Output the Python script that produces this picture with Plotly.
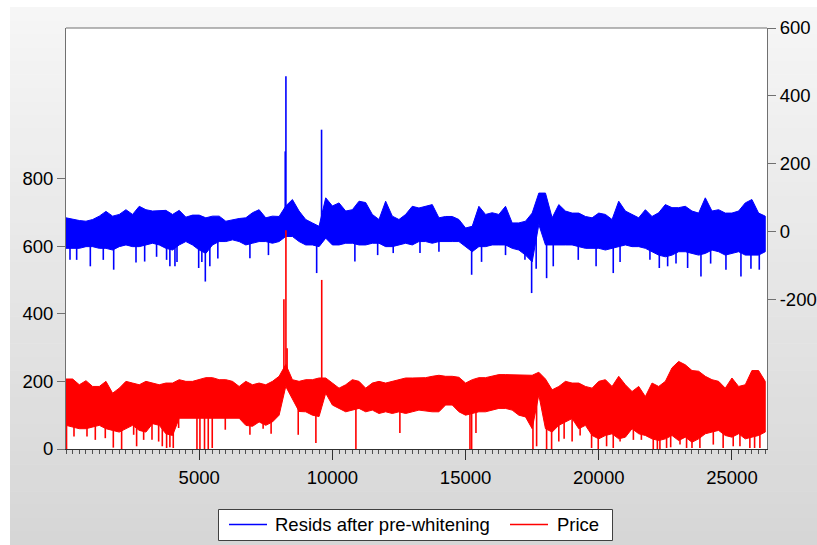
import plotly.graph_objects as go

# ---------------- data ----------------
STEP = 250  # spacing of the envelope readings on the x axis
# Resids after pre-whitening (right axis): upper edge and lower core edge of the dense band
resid_hi = [40, 35, 32, 30, 35, 45, 59, 45, 50, 64, 50, 74, 64, 60, 62, 62, 50, 62, 42, 48,
            48, 40, 45, 45, 30, 35, 38, 40, 55, 64, 40, 45, 44, 75, 94, 60, 35, 25, 15, 99,
            75, 84, 60, 64, 89, 85, 50, 35, 89, 45, 35, 50, 74, 69, 74, 79, 40, 44, 44, 35,
            10, 15, 74, 50, 55, 50, 74, 25, 25, 30, 54, 113, 113, 40, 79, 60, 54, 54, 44, 40,
            54, 50, 35, 89, 60, 50, 40, 64, 44, 55, 79, 70, 70, 74, 60, 54, 99, 60, 64, 54,
            54, 60, 84, 94, 54, 45]
resid_lo = [-50, -50, -50, -45, -45, -50, -50, -55, -45, -40, -45, -45, -40, -35, -40, -50, -55, -40, -30, -40,
            -55, -65, -40, -30, -30, -25, -30, -40, -35, -30, -30, -35, -30, -15, -15, -30, -40, -40, -45, -20,
            -40, -40, -35, -35, -40, -40, -35, -35, -45, -45, -40, -35, -40, -30, -30, -35, -30, -30, -30, -30,
            -45, -60, -45, -45, -40, -40, -40, -50, -55, -70, -90, 20, -40, -40, -40, -40, -40, -45, -50, -50,
            -50, -55, -50, -45, -40, -45, -45, -50, -60, -70, -75, -70, -60, -60, -65, -70, -65, -55, -60, -70,
            -65, -60, -70, -70, -70, -60]
resid_spike_x = [150, 400, 913, 1400, 1790, 2628, 2953, 3400, 3776, 3900, 4090, 4167, 4981, 5100,
                 5230, 5400, 5700, 6904, 7600, 9410, 10845, 11700, 12284, 13289, 14000, 15228,
                 15600, 16500, 17229, 17480, 17650, 18042, 18292, 19231, 19900, 20544, 20800,
                 21921, 22273, 22586, 22900, 23336, 23837, 24200, 24775, 25338, 25713, 26026,
                 8230, 8256, 9594]
resid_spike_y = [-84, -84, -103, -84, -113, -92, -89, -75, -84, -103, -103, -90, -108, -90,
                 -148, -103, -80, -79, -70, -123, -89, -70, -64, -64, -60, -128,
                 -90, -70, -84, -182, -110, -138, -103, -84, -103, -123, -90,
                 -84, -108, -103, -95, -108, -133, -95, -113, -133, -110, -113,
                 236, 458, 300]

# Price (left axis)
price_hi = [207, 207, 190, 202, 185, 185, 200, 165, 180, 200, 195, 190, 200, 195, 190, 195, 195, 205, 200, 200,
            205, 211, 211, 205, 205, 200, 185, 200, 190, 195, 190, 200, 215, 250, 205, 200, 205, 205, 210, 210,
            195, 180, 190, 205, 200, 180, 195, 200, 195, 200, 205, 210, 210, 211, 211, 215, 218, 215, 215, 212,
            195, 205, 211, 211, 215, 220, 220, 220, 220, 218, 218, 227, 207, 175, 185, 200, 195, 195, 185, 180,
            200, 205, 185, 215, 190, 170, 185, 155, 195, 185, 200, 240, 259, 249, 232, 230, 215, 205, 200, 180,
            210, 185, 190, 232, 232, 200]
price_lo = [70, 65, 60, 60, 65, 70, 60, 55, 50, 60, 70, 55, 50, 75, 70, 45, 40, 91, 91, 91,
            91, 91, 91, 91, 91, 91, 91, 70, 67, 80, 70, 80, 100, 185, 150, 111, 110, 100, 96, 165,
            130, 120, 110, 115, 120, 110, 115, 105, 110, 105, 110, 105, 110, 115, 112, 110, 110, 130, 130, 110,
            100, 105, 110, 110, 115, 120, 120, 115, 100, 95, 60, 160, 60, 50, 70, 80, 90, 60, 70, 40,
            30, 40, 45, 30, 35, 60, 45, 40, 30, 25, 30, 40, 25, 35, 20, 30, 45, 50, 55, 40,
            35, 45, 30, 35, 40, 50]
price_spike_x = [20, 300, 538, 788, 1100, 1475, 1776, 2088, 2540, 2651, 2915, 3228, 3478, 3615, 3777,
                 3900, 4027, 4228, 4916, 5028, 5200, 5340, 5490, 5980, 6905, 7400, 7700, 8718, 9381,
                 10883, 12534, 15165, 15228, 15390, 17530, 17667, 18042, 18230, 18500, 18700, 19000,
                 19300, 19731, 19981, 20294, 20544, 20800, 21300, 21600, 22046, 22200, 22296, 22546,
                 22700, 23050, 23297, 23500, 23797, 24300, 24670, 25048, 25300, 25673, 25850, 26049,
                 26200, 8180, 8256, 8300, 9600]
price_spike_y = [0, 37, 62, 37, 27, 32, 4, 0, 42, 8, 27, 27, 22, 8, 3,
                 5, 3, 62, 0, 0, 0, 0, 3, 57, 42, 60, 45, 42, 18,
                 0, 47, 0, 0, 47, 0, 8, 0, 0, 22, 30, 22,
                 40, 3, 0, 8, 3, 22, 27, 27, 0, 0, 0, 3,
                 5, 13, 3, 3, 3, 13, 3, 8, 8, 3, 3, 3,
                 57, 443, 647, 298, 500]

x_major_ticks = [5000, 10000, 15000, 20000, 25000]
left_ticks = [0, 200, 400, 600, 800]
right_ticks = [-200, 0, 200, 400, 600]
series_names = ["Resids after pre-whitening", "Price"]

BLUE = "#0000ff"
RED = "#ff0000"
FONT = "Arial, Liberation Sans, sans-serif"
FSIZE = 18.5


def band(hi, lo):
    xs = [i * STEP for i in range(len(hi))]
    return xs + xs[::-1], list(hi) + list(lo)[::-1]


def spikes(sx, sy, hi, lo):
    X, Y = [], []
    for x, y in zip(sx, sy):
        i = min(int(round(x / STEP)), len(hi) - 1)
        base = (hi[i] + lo[i]) / 2.0
        X += [x, x, None]
        Y += [base, y, None]
    return X, Y


fig = go.Figure()

bx, by = band(resid_hi, resid_lo)
sx, sy = spikes(resid_spike_x, resid_spike_y, resid_hi, resid_lo)
fig.add_trace(go.Scatter(x=bx, y=by, fill="toself", fillcolor=BLUE, mode="lines",
                         line=dict(color=BLUE, width=1), yaxis="y", name=series_names[0],
                         showlegend=False, hoverinfo="skip"))
fig.add_trace(go.Scatter(x=sx, y=sy, mode="lines", line=dict(color=BLUE, width=1.6), yaxis="y",
                         showlegend=False, hoverinfo="skip"))

px_, py_ = band(price_hi, price_lo)
psx, psy = spikes(price_spike_x, price_spike_y, price_hi, price_lo)
fig.add_trace(go.Scatter(x=px_, y=py_, fill="toself", fillcolor=RED, mode="lines",
                         line=dict(color=RED, width=1), yaxis="y2", name=series_names[1],
                         showlegend=False, hoverinfo="skip"))
fig.add_trace(go.Scatter(x=psx, y=psy, mode="lines", line=dict(color=RED, width=1.6), yaxis="y2",
                         showlegend=False, hoverinfo="skip"))

# geometry
W, H = 817, 545
L, R, T, B = 66, 50, 28, 96
pw, ph = W - L - R, H - T - B


def PX(px):
    return (px - L) / pw


def PY(py):
    return (H - B - py) / ph


# background gradient (figure area), then white plot area
shapes = []
n = 40
y0px, y1px = 7, 545
for k in range(n):
    a = y0px + (y1px - y0px) * k / n
    b = y0px + (y1px - y0px) * (k + 1) / n + 0.5
    c = int(round(246 - (246 - 214) * (k + 0.5) / n))
    shapes.append(dict(type="rect", xref="paper", yref="paper", layer="below",
                       x0=PX(10), x1=PX(W), y0=PY(b), y1=PY(a),
                       fillcolor=f"rgb({c},{c},{c})", line=dict(width=0)))
shapes.append(dict(type="rect", xref="paper", yref="paper", layer="below",
                   x0=0, x1=1, y0=0, y1=1, fillcolor="white", line=dict(width=0)))
# top frame line
shapes.append(dict(type="line", xref="paper", yref="paper", x0=0, x1=1, y0=1, y1=1,
                   line=dict(color="#707070", width=1)))

# legend box drawn by hand (to match its spacing)
shapes.append(dict(type="rect", xref="paper", yref="paper", x0=PX(218.5), x1=PX(612.5),
                   y0=PY(540.5), y1=PY(509.5), fillcolor="white",
                   line=dict(color="#404040", width=1)))
ly = PY(524.5)
shapes.append(dict(type="line", xref="paper", yref="paper", x0=PX(229), x1=PX(267), y0=ly, y1=ly,
                   line=dict(color=BLUE, width=1.5)))
shapes.append(dict(type="line", xref="paper", yref="paper", x0=PX(510), x1=PX(548), y0=ly, y1=ly,
                   line=dict(color=RED, width=1.5)))
annotations = [
    dict(xref="paper", yref="paper", x=PX(273), y=ly, xanchor="left", yanchor="middle",
         text=series_names[0], showarrow=False, font=dict(family=FONT, size=FSIZE, color="black")),
    dict(xref="paper", yref="paper", x=PX(555), y=ly, xanchor="left", yanchor="middle",
         text=series_names[1], showarrow=False, font=dict(family=FONT, size=FSIZE, color="black")),
]

tickfont = dict(family=FONT, size=FSIZE, color="black")
fig.update_layout(
    width=W, height=H,
    margin=dict(l=L, r=R, t=T, b=B, autoexpand=False),
    paper_bgcolor="white", plot_bgcolor="white",
    shapes=shapes, annotations=annotations,
    showlegend=False,
    xaxis=dict(range=[0, 26316], tickvals=x_major_ticks, ticktext=[str(v) for v in x_major_ticks],
               ticks="outside", ticklen=10, automargin=False,
               tickcolor="#303030", showline=True, linecolor="#303030", linewidth=1,
               showgrid=False, zeroline=False, tickfont=tickfont, ticklabelstandoff=2,
               minor=dict(dtick=STEP, tick0=0, ticks="outside", ticklen=4, tickcolor="#505050",
                          showgrid=False)),
    yaxis=dict(range=[-642, 600], side="right", tickvals=right_ticks,
               ticktext=[str(v) for v in right_ticks], ticks="outside", ticklen=8, automargin=False,
               tickcolor="#707070", showline=True, linecolor="#707070", showgrid=False,
               zeroline=False, tickfont=tickfont),
    yaxis2=dict(range=[0, 1245], side="left", overlaying="y", tickvals=left_ticks,
                ticktext=[str(v) for v in left_ticks], automargin=False,
                ticks="outside", ticklen=8, tickcolor="#707070", showline=True,
                linecolor="#707070", showgrid=False, zeroline=False, tickfont=tickfont),
)

fig.write_html("out.html")
